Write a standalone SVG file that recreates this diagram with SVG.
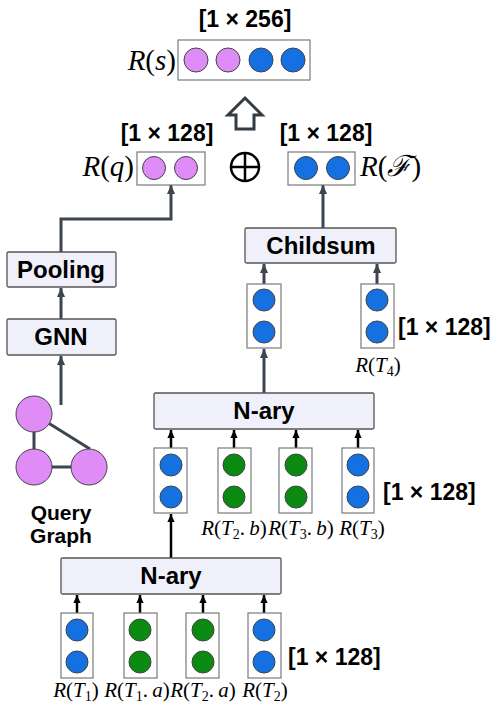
<svg xmlns="http://www.w3.org/2000/svg" width="503" height="709" viewBox="0 0 503 709">
<defs>
<style>
.op{fill:#f0f0fb;stroke:#555;stroke-width:1.3}
.vec{fill:#fff;stroke:#7a7a7a;stroke-width:1.2}
.b{fill:#1570e2;stroke:#444;stroke-width:1}
.g{fill:#0b8a12;stroke:#444;stroke-width:1}
.v{fill:#df8cf7;stroke:#444;stroke-width:1}
.lbl{font-family:"Liberation Sans",Arial,sans-serif;font-weight:bold;font-size:24px;text-anchor:middle;fill:#000}
.dim{font-family:"Liberation Sans",Arial,sans-serif;font-weight:bold;font-size:23px;fill:#000}
.m{font-family:"Liberation Serif","Times New Roman",serif;font-size:21px;fill:#000}
.mb{font-family:"Liberation Serif","Times New Roman",serif;font-size:29px;fill:#000}
.i{font-style:italic}
.gray{fill:none;stroke:#3c4550;stroke-width:3}
.blk{fill:none;stroke:#000;stroke-width:2.5}
</style>
<marker id="ag" viewBox="0 0 10 10" refX="10" refY="5" markerWidth="9" markerHeight="9" markerUnits="userSpaceOnUse" orient="auto"><path d="M0,0.5 L10,5 L0,9.5 z" fill="#3c4550"/></marker>
<marker id="ab" viewBox="0 0 10 10" refX="10" refY="5" markerWidth="8" markerHeight="8" markerUnits="userSpaceOnUse" orient="auto"><path d="M0,0.5 L10,5 L0,9.5 z" fill="#000"/></marker>
</defs>
<rect width="503" height="709" fill="#fff"/>

<g id="connectors">
<path class="gray" d="M61,405 V356" marker-end="url(#ag)"/>
<path class="gray" d="M61,319 V288" marker-end="url(#ag)"/>
<path class="gray" d="M61,252 V219 H171 V185" marker-end="url(#ag)"/>
<path class="gray" d="M323,228 V185" marker-end="url(#ag)"/>
<path class="gray" d="M264,284 V264" marker-end="url(#ag)"/>
<path class="gray" d="M377,284 V264" marker-end="url(#ag)"/>
<path class="gray" d="M264,393 V349" marker-end="url(#ag)"/>
<path class="blk" d="M171,448 V430" marker-end="url(#ab)"/>
<path class="blk" d="M234,448 V430" marker-end="url(#ab)"/>
<path class="blk" d="M296,448 V430" marker-end="url(#ab)"/>
<path class="blk" d="M358,448 V430" marker-end="url(#ab)"/>
<path class="blk" d="M171,558 V514" marker-end="url(#ab)"/>
<path class="blk" d="M77,613 V595" marker-end="url(#ab)"/>
<path class="blk" d="M140,613 V595" marker-end="url(#ab)"/>
<path class="blk" d="M203,613 V595" marker-end="url(#ab)"/>
<path class="blk" d="M264,613 V595" marker-end="url(#ab)"/>
</g>

<g id="Rs">
<text class="dim" x="245" y="27" text-anchor="middle">[1 × 256]</text>
<text class="mb" x="176" y="70" text-anchor="end"><tspan class="i">R</tspan>(<tspan class="i">s</tspan>)</text>
<rect class="vec" x="178" y="40" width="132" height="40"/>
<circle class="v" cx="196" cy="60" r="12"/>
<circle class="v" cx="228" cy="60" r="12"/>
<circle class="b" cx="261" cy="60" r="12"/>
<circle class="b" cx="293" cy="60" r="12"/>
</g>

<g id="concat-arrow">
<polygon points="245,98 262,115 254,115 254,129 236,129 236,115 228,115" fill="#fff" stroke="#333b45" stroke-width="3" stroke-linejoin="miter"/>
</g>

<g id="Rq">
<text class="dim" x="167" y="141" text-anchor="middle">[1 × 128]</text>
<text class="mb" x="134" y="176" text-anchor="end"><tspan class="i">R</tspan>(<tspan class="i">q</tspan>)</text>
<rect class="vec" x="137" y="152" width="68" height="33"/>
<circle class="v" cx="154" cy="168" r="11.5"/>
<circle class="v" cx="186" cy="168" r="11.5"/>
</g>

<g id="oplus">
<circle cx="245" cy="167" r="14" fill="none" stroke="#000" stroke-width="2.5"/>
<path d="M231,167 H259 M245,153 V181" stroke="#000" stroke-width="2.5"/>
</g>

<g id="RF">
<text class="dim" x="326" y="141" text-anchor="middle">[1 × 128]</text>
<rect class="vec" x="288" y="152" width="67" height="33"/>
<circle class="b" cx="306" cy="168" r="11.5"/>
<circle class="b" cx="338" cy="168" r="11.5"/>
<text class="mb" x="360" y="176"><tspan class="i">R</tspan>(<tspan class="i">ℱ</tspan>)</text>
</g>

<g id="pooling">
<rect class="op" x="7" y="252" width="109" height="35" rx="1.5"/>
<text class="lbl" x="61" y="278">Pooling</text>
</g>
<g id="gnn">
<rect class="op" x="7" y="319" width="109" height="36" rx="1.5"/>
<text class="lbl" x="61" y="345">GNN</text>
</g>

<g id="query-graph">
<path d="M34,414 V467 H89 M34,414 L90,449" fill="none" stroke="#3c4550" stroke-width="3"/>
<circle class="v" cx="34" cy="414" r="18"/>
<circle class="v" cx="34" cy="467" r="18"/>
<circle class="v" cx="89" cy="467" r="18"/>
<text class="lbl" x="61" y="520" style="font-size:21px">Query</text>
<text class="lbl" x="61" y="543" style="font-size:21px">Graph</text>
</g>

<g id="childsum">
<rect class="op" x="245" y="228" width="151" height="35" rx="1.5"/>
<text class="lbl" x="321" y="254">Childsum</text>
</g>

<g id="childsum-in1">
<rect class="vec" x="247" y="284" width="34" height="64"/>
<circle class="b" cx="264" cy="300" r="11"/>
<circle class="b" cx="264" cy="332" r="11"/>
</g>
<g id="T4">
<rect class="vec" x="361" y="284" width="33" height="64"/>
<circle class="b" cx="377" cy="300" r="11"/>
<circle class="b" cx="377" cy="332" r="11"/>
<text class="dim" x="398" y="335">[1 × 128]</text>
<text class="m" x="378" y="372" text-anchor="middle"><tspan class="i">R</tspan>(<tspan class="i">T</tspan><tspan font-size="14" dy="4">4</tspan><tspan dy="-4">)</tspan></text>
</g>

<g id="nary-upper">
<rect class="op" x="154" y="393" width="220" height="36" rx="1.5"/>
<text class="lbl" x="264" y="419">N-ary</text>
</g>
<g id="upper-inputs">
<rect class="vec" x="154" y="448" width="33" height="65"/>
<circle class="b" cx="171" cy="465" r="11"/>
<circle class="b" cx="171" cy="497" r="11"/>
<rect class="vec" x="218" y="448" width="33" height="65"/>
<circle class="g" cx="234" cy="465" r="11"/>
<circle class="g" cx="234" cy="497" r="11"/>
<rect class="vec" x="279" y="448" width="33" height="65"/>
<circle class="g" cx="296" cy="465" r="11"/>
<circle class="g" cx="296" cy="497" r="11"/>
<rect class="vec" x="342" y="448" width="32" height="65"/>
<circle class="b" cx="358" cy="465" r="11"/>
<circle class="b" cx="358" cy="497" r="11"/>
<text class="dim" x="383" y="500">[1 × 128]</text>
<text class="m" x="234" y="535" text-anchor="middle"><tspan class="i">R</tspan>(<tspan class="i">T</tspan><tspan font-size="14" dy="4">2</tspan><tspan dy="-4">.&#8201;</tspan><tspan class="i">b</tspan>)</text>
<text class="m" x="301" y="535" text-anchor="middle"><tspan class="i">R</tspan>(<tspan class="i">T</tspan><tspan font-size="14" dy="4">3</tspan><tspan dy="-4">.&#8201;</tspan><tspan class="i">b</tspan>)</text>
<text class="m" x="362" y="535" text-anchor="middle"><tspan class="i">R</tspan>(<tspan class="i">T</tspan><tspan font-size="14" dy="4">3</tspan><tspan dy="-4">)</tspan></text>
</g>

<g id="nary-lower">
<rect class="op" x="61" y="558" width="220" height="36" rx="1.5"/>
<text class="lbl" x="171" y="584">N-ary</text>
</g>
<g id="lower-inputs">
<rect class="vec" x="61" y="613" width="32" height="65"/>
<circle class="b" cx="77" cy="630" r="11"/>
<circle class="b" cx="77" cy="662" r="11"/>
<rect class="vec" x="124" y="613" width="33" height="65"/>
<circle class="g" cx="140" cy="630" r="11"/>
<circle class="g" cx="140" cy="662" r="11"/>
<rect class="vec" x="186" y="613" width="33" height="65"/>
<circle class="g" cx="203" cy="630" r="11"/>
<circle class="g" cx="203" cy="662" r="11"/>
<rect class="vec" x="248" y="613" width="33" height="65"/>
<circle class="b" cx="264" cy="630" r="11"/>
<circle class="b" cx="264" cy="662" r="11"/>
<text class="dim" x="288" y="665">[1 × 128]</text>
<text class="m" x="76" y="697" text-anchor="middle"><tspan class="i">R</tspan>(<tspan class="i">T</tspan><tspan font-size="14" dy="4">1</tspan><tspan dy="-4">)</tspan></text>
<text class="m" x="137" y="697" text-anchor="middle"><tspan class="i">R</tspan>(<tspan class="i">T</tspan><tspan font-size="14" dy="4">1</tspan><tspan dy="-4">.&#8201;</tspan><tspan class="i">a</tspan>)</text>
<text class="m" x="203" y="697" text-anchor="middle"><tspan class="i">R</tspan>(<tspan class="i">T</tspan><tspan font-size="14" dy="4">2</tspan><tspan dy="-4">.&#8201;</tspan><tspan class="i">a</tspan>)</text>
<text class="m" x="265" y="697" text-anchor="middle"><tspan class="i">R</tspan>(<tspan class="i">T</tspan><tspan font-size="14" dy="4">2</tspan><tspan dy="-4">)</tspan></text>
</g>
</svg>
